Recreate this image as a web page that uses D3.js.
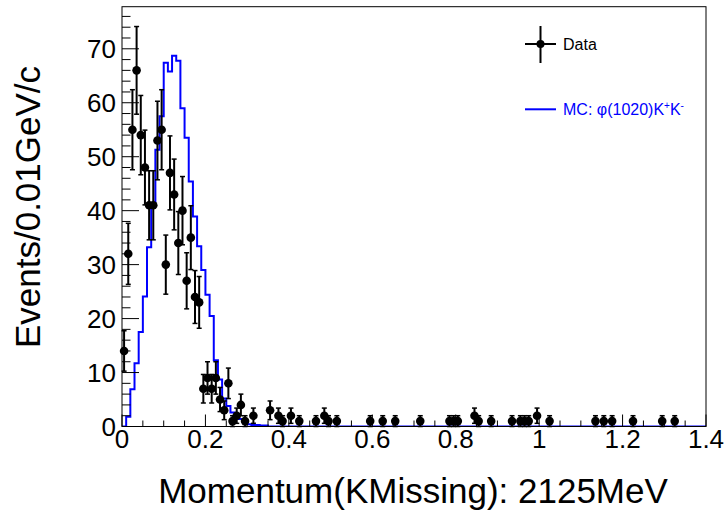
<!DOCTYPE html>
<html><head><meta charset="utf-8">
<script src="https://cdn.jsdelivr.net/npm/d3@7"></script>
<style>
body{margin:0;background:#fff}
svg{display:block;background:#fff}
text{font-family:"Liberation Sans",Arial,Helvetica,sans-serif}
</style>
</head><body>
<svg id="c" width="728" height="515"></svg>
<script>
// ---- data (bin lower edges, width 0.01 GeV/c) ----
const dataBins = [0.00,0.01,0.02,0.03,0.04,0.05,0.06,0.07,0.08,0.09,
  0.10,0.11,0.12,0.13,0.14,0.15,0.16,0.17,0.18,0.19,
  0.20,0.21,0.22,0.23,0.24,0.25,0.26,0.27,0.28,0.29,
  0.31,0.35,0.37,0.38,0.40,0.42,0.46,0.48,0.49,0.51,
  0.59,0.62,0.65,0.71,0.78,0.79,0.80,0.84,0.85,0.88,
  0.93,0.95,0.96,0.97,0.99,1.02,1.13,1.15,1.17,1.22,1.29,1.32];
const dataCounts = [14,32,55,66,54,48,41,41,53,55,
  30,47,43,34,40,27,35,24,23,7,
  9,7,9,5,3,8,1,2,4,1,
  2,3,2,1,2,1,1,2,1,1,
  1,1,1,1,1,1,1,2,1,1,
  1,1,1,1,2,1,1,1,1,1,1,1];

const mcBins = [0.00,0.01,0.02,0.03,0.04,0.05,0.06,0.07,0.08,0.09,
  0.10,0.11,0.12,0.13,0.14,0.15,0.16,0.17,0.18,0.19,
  0.20,0.21,0.22,0.23,0.24,0.25,0.26,0.27,0.28,0.29,
  0.30,0.31,0.32,0.33,0.34,0.35];
const mcValues = [0,1.8,6.9,11.7,17.5,24.1,33.2,40.8,51.3,57.5,
  67.4,65.8,68.7,67.8,59.0,53.5,45.4,38.9,33.4,29.0,
  24.4,20.5,12.3,8.7,5.2,3.8,2.6,1.8,1.4,0.9,
  0.4,0.3,0.3,0.2,0.2,0];

const xTicks = [0,0.2,0.4,0.6,0.8,1.0,1.2,1.4];
const xTickLabels = ["0","0.2","0.4","0.6","0.8","1","1.2","1.4"];
const yTicks = [0,10,20,30,40,50,60,70];
const yTickLabels = ["0","10","20","30","40","50","60","70"];

const xTitle = "Momentum(KMissing): 2125MeV";
const yTitle = "Events/0.01GeV/c";
const legendData = "Data";

// ---- layout ----
const L = 122, R = 706, T = 6.7, B = 426.5;
const binW = 0.01;
const svg = d3.select("#c");
const x = d3.scaleLinear().domain([0,1.4]).range([L,R]);
const y = d3.scaleLinear().domain([0,77.8]).range([B,T]);

svg.append("rect").attr("width",728).attr("height",515).attr("fill","#fff");

svg.append("defs").append("clipPath").attr("id","clip")
  .append("rect").attr("x",L).attr("y",T).attr("width",R-L).attr("height",B-T);

// MC histogram (step)
const mcPts = mcBins.map((b,i)=>[b,mcValues[i]]);
mcPts.push([1.4,0]);
const line = d3.line().x(d=>x(d[0])).y(d=>y(d[1])).curve(d3.curveStepAfter);
svg.append("path").attr("d",line(mcPts)).attr("fill","none")
  .attr("stroke","#0000ff").attr("stroke-width",2).attr("clip-path","url(#clip)");

// Data error bars + markers
const g = svg.append("g");
dataBins.forEach((b,i)=>{
  const v = dataCounts[i], e = Math.sqrt(v);
  const cx = x(b+binW/2);
  const y1 = y(v+e), y2 = y(Math.max(0,v-e));
  g.append("line").attr("x1",cx).attr("x2",cx).attr("y1",y1).attr("y2",y2)
    .attr("stroke","#000").attr("stroke-width",2);
  [y1,y2].forEach(yy=>g.append("line").attr("x1",cx-2.5).attr("x2",cx+2.5)
    .attr("y1",yy).attr("y2",yy).attr("stroke","#000").attr("stroke-width",1.5));
  g.append("circle").attr("cx",cx).attr("cy",y(v)).attr("r",4.3).attr("fill","#000");
});

// Axes ticks (inward)
const ax = svg.append("g").attr("stroke","#000").attr("stroke-width",1);
d3.range(0,1.4001,0.05).forEach(t=>{
  const major = Math.abs(t/0.2 - Math.round(t/0.2))<1e-6;
  ax.append("line").attr("x1",x(t)).attr("x2",x(t)).attr("y1",B).attr("y2",B-(major?12:6));
});
d3.range(0,77.8,2).forEach(t=>{
  const major = t%10===0;
  ax.append("line").attr("x1",L).attr("x2",L+(major?17:8.5)).attr("y1",y(t)).attr("y2",y(t));
});
// frame
svg.append("rect").attr("x",L).attr("y",T).attr("width",R-L).attr("height",B-T)
  .attr("fill","none").attr("stroke","#000").attr("stroke-width",1);

// tick labels
svg.append("g").selectAll("text").data(xTicks).join("text")
  .attr("x",d=>x(d)).attr("y",448).attr("text-anchor","middle")
  .attr("font-size",26).text((d,i)=>xTickLabels[i]);
svg.append("g").selectAll("text").data(yTicks).join("text")
  .attr("x",116).attr("y",d=>y(d)+9.5).attr("text-anchor","end")
  .attr("font-size",26).text((d,i)=>yTickLabels[i]);

// titles
svg.append("text").attr("x",413).attr("y",503).attr("text-anchor","middle")
  .attr("font-size",35).text(xTitle);
svg.append("text").attr("transform","translate(40,207) rotate(-90)")
  .attr("text-anchor","middle").attr("font-size",35).text(yTitle);

// legend
const lg = svg.append("g");
lg.append("line").attr("x1",525).attr("x2",556).attr("y1",44).attr("y2",44).attr("stroke","#000").attr("stroke-width",2);
lg.append("line").attr("x1",540.5).attr("x2",540.5).attr("y1",26).attr("y2",63).attr("stroke","#000").attr("stroke-width",2);
lg.append("circle").attr("cx",540.5).attr("cy",44).attr("r",4).attr("fill","#000");
lg.append("text").attr("x",563).attr("y",50).attr("font-size",16).text(legendData);
lg.append("line").attr("x1",525).attr("x2",556).attr("y1",109.3).attr("y2",109.3).attr("stroke","#0000ff").attr("stroke-width",2);
const mt = lg.append("text").attr("x",563).attr("y",115).attr("font-size",16).attr("fill","#0000ff");
mt.append("tspan").text("MC: \u03c6(1020)K");
mt.append("tspan").attr("font-size",10).attr("dy",-6).text("+");
mt.append("tspan").attr("font-size",16).attr("dy",6).text("K");
mt.append("tspan").attr("font-size",10).attr("dy",-6).text("-");
</script>
</body></html>
